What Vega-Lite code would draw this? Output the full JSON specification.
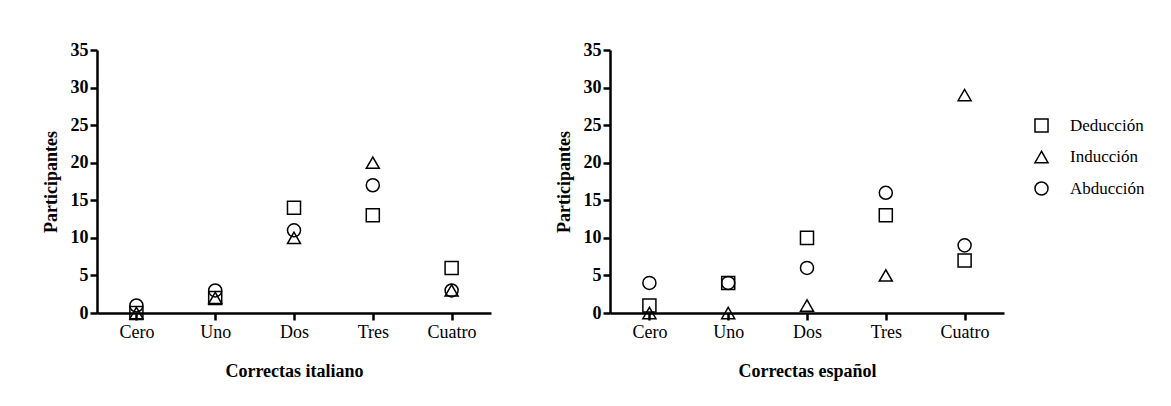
{
  "$schema": "https://vega.github.io/schema/vega-lite/v6.json",
  "background": "white",
  "padding": {"left": 42, "top": 41, "right": 5, "bottom": 5},
  "data": {
    "values": [
      {"lengua": "italiano", "correctas": "Cero", "tipo": "Deducción", "participantes": 0},
      {"lengua": "italiano", "correctas": "Cero", "tipo": "Inducción", "participantes": 0},
      {"lengua": "italiano", "correctas": "Cero", "tipo": "Abducción", "participantes": 1},
      {"lengua": "italiano", "correctas": "Uno", "tipo": "Deducción", "participantes": 2},
      {"lengua": "italiano", "correctas": "Uno", "tipo": "Inducción", "participantes": 2},
      {"lengua": "italiano", "correctas": "Uno", "tipo": "Abducción", "participantes": 3},
      {"lengua": "italiano", "correctas": "Dos", "tipo": "Deducción", "participantes": 14},
      {"lengua": "italiano", "correctas": "Dos", "tipo": "Inducción", "participantes": 10},
      {"lengua": "italiano", "correctas": "Dos", "tipo": "Abducción", "participantes": 11},
      {"lengua": "italiano", "correctas": "Tres", "tipo": "Deducción", "participantes": 13},
      {"lengua": "italiano", "correctas": "Tres", "tipo": "Inducción", "participantes": 20},
      {"lengua": "italiano", "correctas": "Tres", "tipo": "Abducción", "participantes": 17},
      {"lengua": "italiano", "correctas": "Cuatro", "tipo": "Deducción", "participantes": 6},
      {"lengua": "italiano", "correctas": "Cuatro", "tipo": "Inducción", "participantes": 3},
      {"lengua": "italiano", "correctas": "Cuatro", "tipo": "Abducción", "participantes": 3},
      {"lengua": "español", "correctas": "Cero", "tipo": "Deducción", "participantes": 1},
      {"lengua": "español", "correctas": "Cero", "tipo": "Inducción", "participantes": 0},
      {"lengua": "español", "correctas": "Cero", "tipo": "Abducción", "participantes": 4},
      {"lengua": "español", "correctas": "Uno", "tipo": "Deducción", "participantes": 4},
      {"lengua": "español", "correctas": "Uno", "tipo": "Inducción", "participantes": 0},
      {"lengua": "español", "correctas": "Uno", "tipo": "Abducción", "participantes": 4},
      {"lengua": "español", "correctas": "Dos", "tipo": "Deducción", "participantes": 10},
      {"lengua": "español", "correctas": "Dos", "tipo": "Inducción", "participantes": 1},
      {"lengua": "español", "correctas": "Dos", "tipo": "Abducción", "participantes": 6},
      {"lengua": "español", "correctas": "Tres", "tipo": "Deducción", "participantes": 13},
      {"lengua": "español", "correctas": "Tres", "tipo": "Inducción", "participantes": 5},
      {"lengua": "español", "correctas": "Tres", "tipo": "Abducción", "participantes": 16},
      {"lengua": "español", "correctas": "Cuatro", "tipo": "Deducción", "participantes": 7},
      {"lengua": "español", "correctas": "Cuatro", "tipo": "Inducción", "participantes": 29},
      {"lengua": "español", "correctas": "Cuatro", "tipo": "Abducción", "participantes": 9}
    ]
  },
  "spacing": 64,
  "resolve": {"legend": {"shape": "shared"}},
  "hconcat": [
    {
      "width": 394,
      "height": 263,
      "transform": [{"filter": "datum.lengua === 'italiano'"}],
      "mark": {"type": "point", "filled": false, "stroke": "black", "strokeWidth": 1.5, "size": 170, "opacity": 1},
      "encoding": {
        "x": {"field": "correctas", "type": "nominal", "sort": ["Cero", "Uno", "Dos", "Tres", "Cuatro"], "title": "Correctas italiano", "axis": {"labelAngle": 0}},
        "y": {"field": "participantes", "type": "quantitative", "scale": {"domain": [0, 35], "nice": false}, "title": "Participantes", "axis": {"values": [0, 5, 10, 15, 20, 25, 30, 35]}},
        "shape": {"field": "tipo", "type": "nominal", "sort": ["Deducción", "Inducción", "Abducción"], "scale": {"domain": ["Deducción", "Inducción", "Abducción"], "range": ["square", "triangle-up", "circle"]}, "legend": {"orient": "none", "legendX": 936, "legendY": 67, "title": null}}
      }
    },
    {
      "width": 394,
      "height": 263,
      "transform": [{"filter": "datum.lengua === 'español'"}],
      "mark": {"type": "point", "filled": false, "stroke": "black", "strokeWidth": 1.5, "size": 170, "opacity": 1},
      "encoding": {
        "x": {"field": "correctas", "type": "nominal", "sort": ["Cero", "Uno", "Dos", "Tres", "Cuatro"], "title": "Correctas español", "axis": {"labelAngle": 0}},
        "y": {"field": "participantes", "type": "quantitative", "scale": {"domain": [0, 35], "nice": false}, "title": "Participantes", "axis": {"values": [0, 5, 10, 15, 20, 25, 30, 35]}},
        "shape": {"field": "tipo", "type": "nominal", "sort": ["Deducción", "Inducción", "Abducción"], "scale": {"domain": ["Deducción", "Inducción", "Abducción"], "range": ["square", "triangle-up", "circle"]}, "legend": {"orient": "none", "legendX": 936, "legendY": 67, "title": null}}
      }
    }
  ],
  "config": {
    "font": "Liberation Serif",
    "view": {"stroke": null},
    "axis": {
      "domainColor": "black",
      "domainWidth": 2.5,
      "tickColor": "black",
      "tickWidth": 2.5,
      "tickSize": 7,
      "grid": false,
      "labelColor": "black",
      "titleColor": "black",
      "labelFont": "Liberation Serif",
      "titleFont": "Liberation Serif",
      "titleFontWeight": "bold",
      "titleFontSize": 18
    },
    "axisX": {"labelFontSize": 18, "labelFontWeight": "normal", "labelPadding": 3, "titlePadding": 21},
    "axisY": {"labelFontSize": 18, "labelFontWeight": "bold", "labelPadding": 2, "titlePadding": 10},
    "legend": {
      "labelFont": "Liberation Serif",
      "labelFontSize": 17,
      "labelColor": "black",
      "symbolStrokeColor": "black",
      "symbolFillColor": "transparent",
      "symbolStrokeWidth": 1.5,
      "symbolSize": 170,
      "labelOffset": 20,
      "rowPadding": 11.5,
      "padding": 0
    }
  }
}
